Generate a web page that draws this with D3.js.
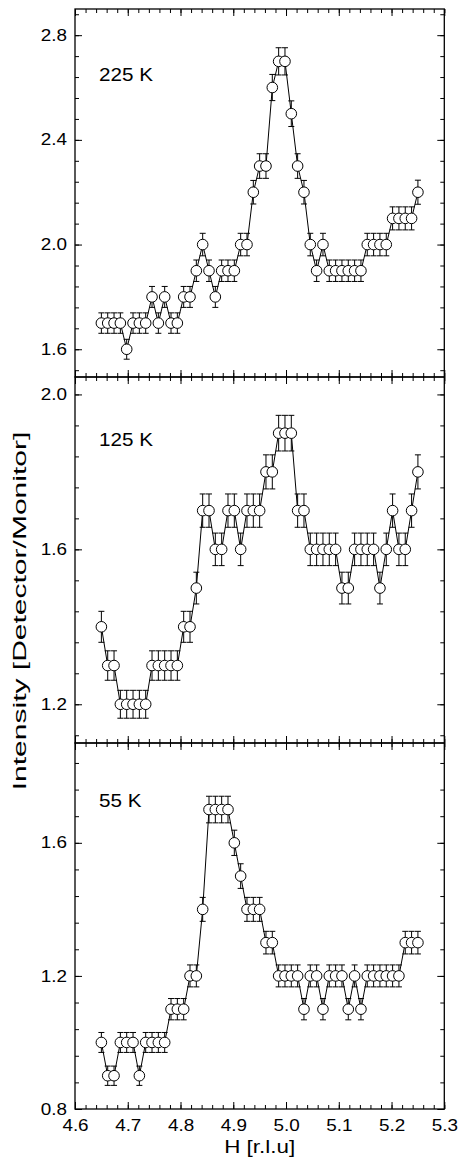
<!DOCTYPE html>
<html>
<head>
<meta charset="utf-8">
<script src="https://cdnjs.cloudflare.com/ajax/libs/d3/7.8.5/d3.min.js"></script>
<style>
  body { margin: 0; background: #ffffff; }
  text { font-family: "Liberation Sans", Arial, sans-serif; fill: #000; }
</style>
</head>
<body>
<div id="chart"></div>
<script>
// H positions of the scan [r.l.u]
var hValues = [4.650, 4.662, 4.674, 4.686, 4.698, 4.710, 4.722, 4.734, 4.746, 4.758,
  4.770, 4.782, 4.794, 4.806, 4.818, 4.830, 4.842, 4.854, 4.866, 4.878,
  4.890, 4.902, 4.914, 4.926, 4.938, 4.950, 4.962, 4.974, 4.986, 4.998,
  5.010, 5.022, 5.034, 5.046, 5.058, 5.070, 5.082, 5.094, 5.106, 5.118,
  5.130, 5.142, 5.154, 5.166, 5.178, 5.190, 5.202, 5.214, 5.226, 5.238, 5.250];

// 225 K
var int225 = [1.7, 1.7, 1.7, 1.7, 1.6, 1.7, 1.7, 1.7, 1.8, 1.7,
  1.8, 1.7, 1.7, 1.8, 1.8, 1.9, 2.0, 1.9, 1.8, 1.9,
  1.9, 1.9, 2.0, 2.0, 2.2, 2.3, 2.3, 2.6, 2.7, 2.7,
  2.5, 2.3, 2.2, 2.0, 1.9, 2.0, 1.9, 1.9, 1.9, 1.9,
  1.9, 1.9, 2.0, 2.0, 2.0, 2.0, 2.1, 2.1, 2.1, 2.1, 2.2];
var err225 = [0.039, 0.039, 0.039, 0.039, 0.038, 0.039, 0.039, 0.039, 0.040, 0.039,
  0.040, 0.039, 0.039, 0.040, 0.040, 0.041, 0.043, 0.041, 0.040, 0.041,
  0.041, 0.041, 0.043, 0.043, 0.045, 0.047, 0.047, 0.050, 0.052, 0.052,
  0.049, 0.047, 0.045, 0.043, 0.041, 0.043, 0.041, 0.041, 0.041, 0.041,
  0.041, 0.041, 0.043, 0.043, 0.043, 0.043, 0.044, 0.044, 0.044, 0.044, 0.046];

// 125 K
var int125 = [1.4, 1.3, 1.3, 1.2, 1.2, 1.2, 1.2, 1.2, 1.3, 1.3,
  1.3, 1.3, 1.3, 1.4, 1.4, 1.5, 1.7, 1.7, 1.6, 1.6,
  1.7, 1.7, 1.6, 1.7, 1.7, 1.7, 1.8, 1.8, 1.9, 1.9,
  1.9, 1.7, 1.7, 1.6, 1.6, 1.6, 1.6, 1.6, 1.5, 1.5,
  1.6, 1.6, 1.6, 1.6, 1.5, 1.6, 1.7, 1.6, 1.6, 1.7, 1.8];
var err125 = [0.040, 0.038, 0.038, 0.036, 0.036, 0.036, 0.036, 0.036, 0.038, 0.038,
  0.038, 0.038, 0.038, 0.040, 0.040, 0.041, 0.043, 0.043, 0.042, 0.042,
  0.043, 0.043, 0.042, 0.043, 0.043, 0.043, 0.044, 0.044, 0.046, 0.046,
  0.046, 0.043, 0.043, 0.042, 0.042, 0.042, 0.042, 0.042, 0.041, 0.041,
  0.042, 0.042, 0.042, 0.042, 0.041, 0.042, 0.043, 0.042, 0.042, 0.043, 0.044];

// 55 K
var int55 = [1.0, 0.9, 0.9, 1.0, 1.0, 1.0, 0.9, 1.0, 1.0, 1.0,
  1.0, 1.1, 1.1, 1.1, 1.2, 1.2, 1.4, 1.7, 1.7, 1.7,
  1.7, 1.6, 1.5, 1.4, 1.4, 1.4, 1.3, 1.3, 1.2, 1.2,
  1.2, 1.2, 1.1, 1.2, 1.2, 1.1, 1.2, 1.2, 1.2, 1.1,
  1.2, 1.1, 1.2, 1.2, 1.2, 1.2, 1.2, 1.2, 1.3, 1.3, 1.3];
var err55 = [0.030, 0.029, 0.029, 0.030, 0.030, 0.030, 0.029, 0.030, 0.030, 0.030,
  0.030, 0.032, 0.032, 0.032, 0.033, 0.033, 0.036, 0.040, 0.040, 0.040,
  0.040, 0.038, 0.037, 0.036, 0.036, 0.036, 0.034, 0.034, 0.033, 0.033,
  0.033, 0.033, 0.032, 0.033, 0.033, 0.032, 0.033, 0.033, 0.033, 0.032,
  0.033, 0.032, 0.033, 0.033, 0.033, 0.033, 0.033, 0.033, 0.034, 0.034, 0.034];

var panelLabels = ["225 K", "125 K", "55 K"];
var xTicks = [4.6, 4.7, 4.8, 4.9, 5.0, 5.1, 5.2, 5.3];
var yTicks225 = [1.6, 2.0, 2.4, 2.8];
var yTicks125 = [1.2, 1.6, 2.0];
var yTicks55 = [0.8, 1.2, 1.6];

function makeChart() {

  var svgWidth = 458;
  var svgHeight = 1172;

  var margin = { top: 9, left: 75, right: 13.7 };
  var width = svgWidth - margin.left - margin.right;

  // text in the original is a little wider than it is tall
  var stretch = "scale(1.18,1)";
  var fontFamily = '"Liberation Sans", Arial, sans-serif';

  var svg = d3.select("#chart")
    .append("svg")
    .attr("width", svgWidth)
    .attr("height", svgHeight);

  var xscale = d3.scaleLinear()
    .domain([4.6, 5.3])
    .range([0, width]);

  var xMinor = d3.range(0, 36).map(i => +(4.6 + i * 0.02).toFixed(2));

  var panels = [
    { top: 9, height: 368, domain: [1.494, 2.9], ticks: yTicks225, y: int225, e: err225, labelY: 72 },
    { top: 377, height: 366, domain: [1.1, 2.045], ticks: yTicks125, y: int125, e: err125, labelY: 69 },
    { top: 743, height: 366, domain: [0.8, 1.9], ticks: yTicks55, y: int55, e: err55, labelY: 64 }
  ];

  panels.forEach(function(p, pi) {
    var h = p.height;
    var chartGroup = svg.append("g")
      .attr("transform", `translate(${margin.left}, ${p.top})`);

    var yscale = d3.scaleLinear()
      .domain(p.domain)
      .range([h, 0]);

    // minor y ticks every 0.08 from the first major tick
    var yMinor = [];
    for (var v = p.ticks[0] - 0.4; v <= p.domain[1] + 1e-6; v += 0.08) {
      var r = +v.toFixed(2);
      if (r >= p.domain[0] - 1e-6) yMinor.push(r);
    }

    // Step 1: tick marks on all four sides, pointing inward
    // ==============================
    var axes = [
      { ax: d3.axisLeft(yscale), t: "translate(0,0)", maj: p.ticks, min: yMinor },
      { ax: d3.axisRight(yscale), t: `translate(${width},0)`, maj: p.ticks, min: yMinor },
      { ax: d3.axisTop(xscale), t: "translate(0,0)", maj: xTicks, min: xMinor },
      { ax: d3.axisBottom(xscale), t: `translate(0,${h})`, maj: xTicks, min: xMinor }
    ];

    axes.forEach(function(a, ai) {
      chartGroup.append("g")
        .attr("transform", a.t)
        .call(a.ax.tickValues(a.min).tickSize(-4).tickFormat(""))
        .call(g => g.select(".domain").remove());

      var showLabels = (ai === 0) || (ai === 3 && pi === 2);
      var axisG = chartGroup.append("g")
        .attr("transform", a.t)
        .call(a.ax.tickValues(a.maj).tickSize(-7)
          .tickPadding(ai === 0 ? 6.8 : 10.5)
          .tickFormat(showLabels ? d3.format(".1f") : ""))
        .call(g => g.select(".domain").remove())
        .attr("font-size", 16)
        .attr("font-family", fontFamily);
      axisG.selectAll(".tick text").attr("transform", stretch);
    });

    chartGroup.selectAll(".tick line")
      .attr("stroke", "#000")
      .attr("stroke-width", 1);

    // Step 2: frame
    // ==============================
    chartGroup.append("rect")
      .attr("x", 0)
      .attr("y", 0)
      .attr("width", width)
      .attr("height", h)
      .attr("fill", "none")
      .attr("stroke", "#000")
      .attr("stroke-width", 1.3);

    var points = hValues.map((hv, i) => ({ h: hv, v: p.y[i], e: p.e[i] }));

    // Step 3: error bars
    // ==============================
    var bars = chartGroup.append("g")
      .attr("stroke", "#000")
      .attr("stroke-width", 1);

    bars.selectAll("line.stem")
      .data(points)
      .enter()
      .append("line")
      .attr("class", "stem")
      .attr("x1", d => xscale(d.h))
      .attr("x2", d => xscale(d.h))
      .attr("y1", d => yscale(d.v - d.e))
      .attr("y2", d => yscale(d.v + d.e));

    [-1, 1].forEach(function(s) {
      bars.selectAll(null)
        .data(points)
        .enter()
        .append("line")
        .attr("x1", d => xscale(d.h) - 3)
        .attr("x2", d => xscale(d.h) + 3)
        .attr("y1", d => yscale(d.v + s * d.e))
        .attr("y2", d => yscale(d.v + s * d.e));
    });

    // Step 4: connecting line
    // ==============================
    var line = d3.line()
      .x(d => xscale(d.h))
      .y(d => yscale(d.v));

    chartGroup.append("path")
      .datum(points)
      .attr("d", line)
      .attr("fill", "none")
      .attr("stroke", "#000")
      .attr("stroke-width", 1);

    // Step 5: open circles
    // ==============================
    chartGroup.selectAll("circle")
      .data(points)
      .enter()
      .append("circle")
      .attr("cx", d => xscale(d.h))
      .attr("cy", d => yscale(d.v))
      .attr("r", 5.3)
      .attr("fill", "#fff")
      .attr("stroke", "#000")
      .attr("stroke-width", 1);

    // temperature label
    chartGroup.append("text")
      .attr("transform", `translate(24, ${p.labelY}) ${stretch}`)
      .attr("font-size", 17.5)
      .text(panelLabels[pi]);
  });

  // Create axes labels
  svg.append("text")
    .attr("transform", `translate(${margin.left + width / 2}, 1153) ${stretch}`)
    .attr("text-anchor", "middle")
    .attr("font-size", 19)
    .text("H [r.l.u]");

  svg.append("text")
    .attr("transform", "translate(26, 611) scale(1,1.58) rotate(-90)")
    .attr("text-anchor", "middle")
    .attr("font-size", 19)
    .text("Intensity [Detector/Monitor]");
}

makeChart();
</script>
</body>
</html>
